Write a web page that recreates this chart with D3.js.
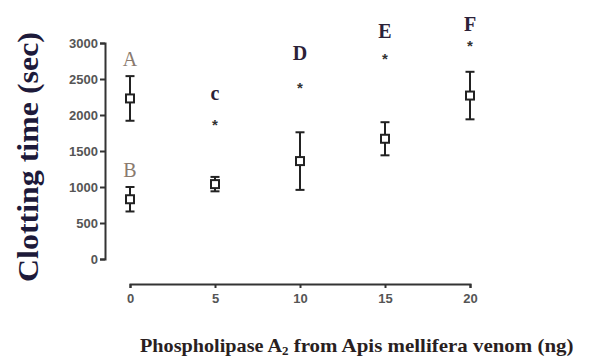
<!DOCTYPE html>
<html>
<head>
<meta charset="utf-8">
<script src="https://cdn.jsdelivr.net/npm/d3@7"></script>
<style>
  body { margin: 0; background: #fff; }
  .axis path, .axis line { stroke: #333; stroke-width: 2px; }
  .axis text { fill: #555; font-family: "Liberation Sans", Arial, sans-serif; font-size: 13px; font-weight: bold; }
</style>
</head>
<body>
<svg class="chart" width="603" height="363"></svg>
<script>
// groups: letter, dose (ng), mean clotting time (sec), error
var letters = ["A", "B", "c", "D", "E", "F"];
var doses = [0, 0, 5, 10, 15, 20];
var means = [2230, 830, 1040, 1360, 1670, 2270];
var errors = [310, 170, 100, 400, 230, 330];
var letterValues = [2680, 1140, 2210, 2770, 3070, 3170];
var letterColors = ["#8a7a6e", "#8a7a6e", "#2b2238", "#2b2238", "#2b2238", "#2b2238"];

// asterisks above treated groups
var starDoses = [5, 10, 15, 20];
var starValues = [1900, 2420, 2820, 3000];

var xTicks = [0, 5, 10, 15, 20];
var yTicks = [0, 500, 1000, 1500, 2000, 2500, 3000];

var svg = d3.select(".chart");

var xScale = d3.scaleLinear().domain([0, 20]).range([130, 470]);
var yScale = d3.scaleLinear().domain([0, 3000]).range([259, 43]);

// y axis, offset from the x axis like Prism does
svg.append("g")
    .attr("class", "axis")
    .attr("transform", "translate(105,0)")
    .call(d3.axisLeft(yScale).tickValues(yTicks).tickFormat(d3.format("d")).tickSize(5).tickSizeOuter(5).tickPadding(2));

svg.append("g")
    .attr("class", "axis")
    .attr("transform", "translate(0,284)")
    .call(d3.axisBottom(xScale).tickValues(xTicks).tickSize(4).tickSizeOuter(4).tickPadding(6));

var data = letters.map(function (l, i) {
    return {letter: l, dose: doses[i], mean: means[i], err: errors[i], lv: letterValues[i], color: letterColors[i]};
});

var pts = svg.append("g").selectAll(".pt")
    .data(data)
    .enter().append("g")
    .attr("class", "pt");

// error bars
pts.append("line")
    .attr("x1", function (d) { return xScale(d.dose); })
    .attr("x2", function (d) { return xScale(d.dose); })
    .attr("y1", function (d) { return yScale(d.mean + d.err); })
    .attr("y2", function (d) { return yScale(d.mean - d.err); })
    .attr("stroke", "#222").attr("stroke-width", 2);

[1, -1].forEach(function (s) {
    pts.append("line")
        .attr("x1", function (d) { return xScale(d.dose) - 4.5; })
        .attr("x2", function (d) { return xScale(d.dose) + 4.5; })
        .attr("y1", function (d) { return yScale(d.mean + s * d.err); })
        .attr("y2", function (d) { return yScale(d.mean + s * d.err); })
        .attr("stroke", "#222").attr("stroke-width", 2);
});

pts.append("rect")
    .attr("x", function (d) { return xScale(d.dose) - 4; })
    .attr("y", function (d) { return yScale(d.mean) - 4; })
    .attr("width", 8)
    .attr("height", 8)
    .attr("fill", "#fff")
    .attr("stroke", "#222")
    .attr("stroke-width", 2);

pts.append("text")
    .attr("x", function (d) { return xScale(d.dose); })
    .attr("y", function (d) { return yScale(d.lv); })
    .attr("text-anchor", "middle")
    .attr("font-family", "'Liberation Serif', 'DejaVu Serif', serif")
    .attr("font-weight", function (d) { return d.letter === "A" || d.letter === "B" ? "normal" : "bold"; })
    .attr("font-size", 20)
    .attr("fill", function (d) { return d.color; })
    .text(function (d) { return d.letter; });

svg.append("g").selectAll(".star")
    .data(starDoses)
    .enter().append("text")
    .attr("class", "star")
    .attr("x", function (d) { return xScale(d); })
    .attr("y", function (d, i) { return yScale(starValues[i]) + 8; })
    .attr("text-anchor", "middle")
    .attr("font-family", "'Liberation Sans', sans-serif")
    .attr("font-weight", "bold")
    .attr("font-size", 15)
    .attr("fill", "#333")
    .text("*");

// axis titles
svg.append("text")
    .attr("transform", "translate(38,157) rotate(-90)")
    .attr("text-anchor", "middle")
    .attr("font-family", "'Liberation Serif', 'DejaVu Serif', serif")
    .attr("font-weight", "bold")
    .attr("font-size", 30)
    .attr("textLength", 250)
    .attr("lengthAdjust", "spacingAndGlyphs")
    .attr("fill", "#1d1a3a")
    .text("Clotting time (sec)");

var xt = svg.append("text")
    .attr("x", 140)
    .attr("y", 352)
    .attr("font-family", "'Liberation Serif', 'DejaVu Serif', serif")
    .attr("font-weight", "bold")
    .attr("font-size", 19)
    .attr("fill", "#2a1f1f");
xt.append("tspan").attr("textLength", 142).attr("lengthAdjust", "spacingAndGlyphs").text("Phospholipase A");
xt.append("tspan").attr("font-size", 13).attr("dy", 3).text("2");
xt.append("tspan").attr("dy", -3).attr("textLength", 285).attr("lengthAdjust", "spacingAndGlyphs").text(" from Apis mellifera venom (ng)");
</script>
</body>
</html>
